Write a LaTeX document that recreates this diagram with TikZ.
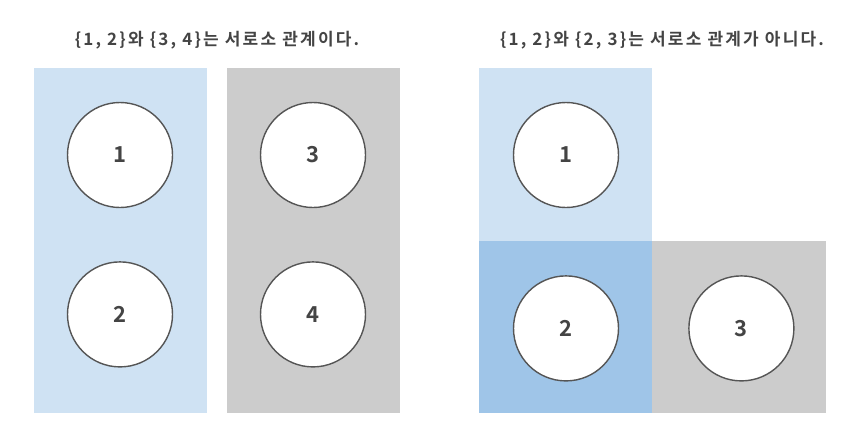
\documentclass[tikz,border=0pt]{standalone}
\usepackage{fontspec}
\usepackage{xcolor}
\usepackage{tikz}
\usetikzlibrary{positioning}
\newfontfamily\krfont[LetterSpace=13]{Noto Sans CJK KR Bold}
\newfontfamily\numfont{Noto Sans CJK KR Bold}
\definecolor{lightblue}{HTML}{CFE2F3}
\definecolor{darkblue}{HTML}{9FC5E8}
\definecolor{boxgray}{HTML}{CCCCCC}
\definecolor{textgray}{HTML}{444444}
\definecolor{ringgray}{HTML}{555555}

\begin{document}
\begin{tikzpicture}[x=1pt,y=-1pt,
    elem/.style={draw=ringgray, line width=1.4pt, fill=white, circle, minimum size=105pt, inner sep=0pt, font=\numfont\fontsize{22}{22}\selectfont, text=textgray},
    title/.style={font=\krfont\fontsize{17}{17}\selectfont, text=textgray}]
    \useasboundingbox (0,0) rectangle (866,439);
    % Bereiche links
    \fill[lightblue] (34,68) rectangle (207,413);
    \fill[boxgray] (227,68) rectangle (400,413);
    % Bereiche rechts
    \fill[lightblue] (479,68) rectangle (652,241);
    \fill[darkblue] (479,241) rectangle (652,413);
    \fill[boxgray] (652,241) rectangle (826,413);

    % Titel
    \node[title] (tl) at (217,40) {\{1, 2\}와 \{3, 4\}는 서로소 관계이다.};
    \node[title] (tr) at (662,40) {\{1, 2\}와 \{2, 3\}는 서로소 관계가 아니다.};

    % Elemente links
    \node[elem] (l1) at (120,155) {1};
    \node[elem, below=53pt of l1] (l2) {2};
    \node[elem] (l3) at (313,155) {3};
    \node[elem, below=53pt of l3] (l4) {4};

    % Elemente rechts
    \node[elem] (r1) at (566,155) {1};
    \node[elem, below=67pt of r1] (r2) {2};
    \node[elem, right=69pt of r2] (r3) {3};
\end{tikzpicture}
\end{document}
